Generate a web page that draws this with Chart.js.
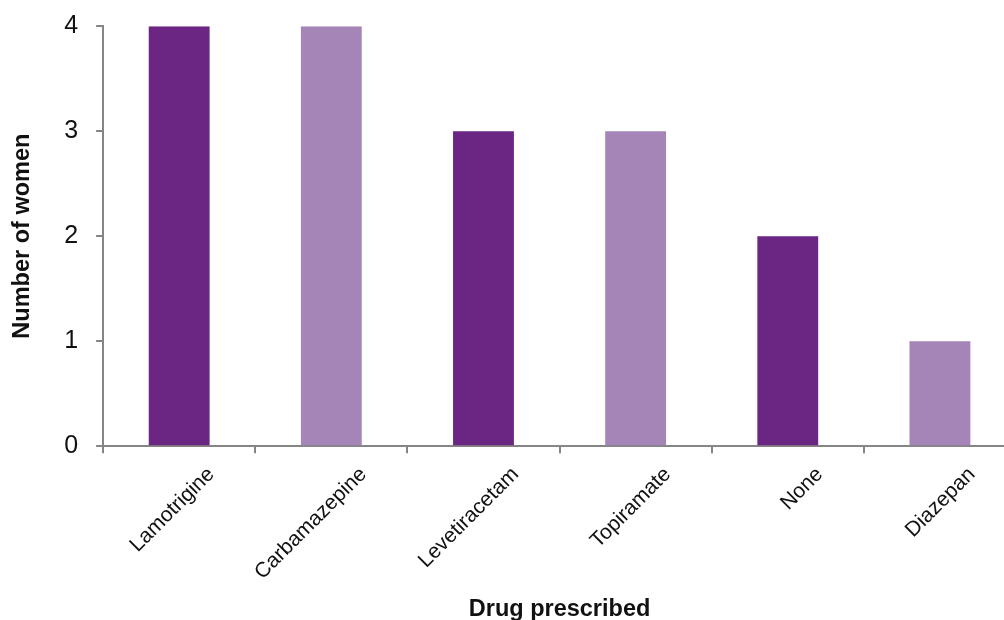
<!DOCTYPE html>
<html>
<head>
<meta charset="utf-8">
<script src="https://cdn.jsdelivr.net/npm/chart.js@4"></script>
<style>
  html, body { margin: 0; padding: 0; background: #fff; overflow: hidden; }
  #wrap { width: 1016px; height: 620px; }
</style>
</head>
<body>
<div id="wrap"><canvas id="drugChart"></canvas></div>
<script>
// data
const drugs = ['Lamotrigine', 'Carbamazepine', 'Levetiracetam', 'Topiramate', 'None', 'Diazepan'];
const women = [4, 4, 3, 3, 2, 1];
const yTicks = [0, 1, 2, 3, 4];

const dark = '#6b2583';
const light = '#a585b8';
const axisGrey = '#858585';
const font = 'Liberation Sans, Arial, sans-serif';

const ctx = document.getElementById('drugChart').getContext('2d');

new Chart(ctx, {
  type: 'bar',
  data: {
    labels: drugs,
    datasets: [{
      data: women,
      backgroundColor: drugs.map((d, i) => i % 2 === 0 ? dark : light),
      borderWidth: 0,
      categoryPercentage: 1,
      barPercentage: 0.4
    }]
  },
  options: {
    responsive: true,
    maintainAspectRatio: false,
    animation: false,
    layout: { padding: { top: 5, right: 0, left: 0, bottom: 0 } },
    plugins: {
      legend: { display: false },
      tooltip: { enabled: false }
    },
    scales: {
      x: {
        grid: {
          offset: true,
          drawOnChartArea: false,
          drawTicks: true,
          tickLength: 7,
          color: axisGrey,
          lineWidth: 2
        },
        border: { color: axisGrey, width: 2 },
        ticks: {
          color: '#111',
          font: { family: font, size: 21 },
          maxRotation: 45,
          minRotation: 45,
          padding: 9,
          labelOffset: 32
        },
        title: {
          display: true,
          text: 'Drug prescribed',
          color: '#111',
          font: { family: font, size: 23.5, weight: 'bold' },
          padding: { top: 2, bottom: -4 }
        }
      },
      y: {
        min: 0,
        max: 4,
        afterBuildTicks: axis => { axis.ticks = yTicks.map(v => ({ value: v })); },
        grid: {
          drawOnChartArea: false,
          drawTicks: true,
          tickLength: 7,
          color: axisGrey,
          lineWidth: 2
        },
        border: { color: axisGrey, width: 2 },
        ticks: {
          color: '#111',
          font: { family: font, size: 25, lineHeight: 0.65 },
          padding: 18
        },
        title: {
          display: true,
          text: 'Number of women',
          color: '#111',
          font: { family: font, size: 23.5, weight: 'bold' },
          padding: { top: 8, bottom: 10 }
        }
      }
    }
  }
});
</script>
</body>
</html>
